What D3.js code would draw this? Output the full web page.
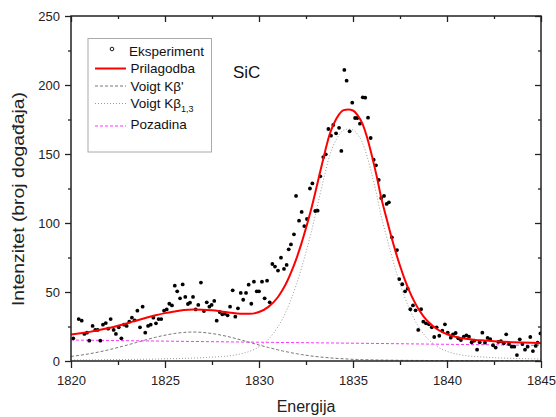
<!DOCTYPE html>
<html>
<head>
<meta charset="utf-8">
<script src="https://cdn.jsdelivr.net/npm/d3@7"></script>
<style>
html,body{margin:0;padding:0;background:#fff;}
svg{display:block;font-family:"Liberation Sans",Arial,sans-serif;}
</style>
</head>
<body>
<svg id="chart" width="556" height="417"></svg>
<script>
// ---- data ----
const expEnergy = [1820.12,1820.41,1820.57,1820.71,1820.85,1820.97,1821.15,1821.29,1821.42,1821.56,
1821.70,1821.85,1821.98,1822.11,1822.27,1822.39,1822.54,1822.68,1822.82,1822.96,
1823.10,1823.24,1823.39,1823.53,1823.67,1823.81,1823.95,1824.10,1824.24,1824.38,
1824.52,1824.66,1824.80,1824.95,1825.09,1825.23,1825.37,1825.52,1825.65,1825.80,
1825.94,1826.08,1826.22,
1826.33,1826.49,1826.63,1826.77,1826.91,1827.07,1827.22,1827.36,1827.48,1827.62,
1827.75,1827.91,1828.05,1828.18,1828.33,1828.46,1828.60,1828.74,1828.88,1829.03,
1829.16,1829.31,1829.45,1829.59,1829.73,1829.88,1830.00,1830.16,1830.30,1830.43,
1830.57,1830.71,1830.85,1831.01,1831.17,1831.33,1831.47,1831.58,1831.70,1831.86,
1831.97,1832.13,1832.27,1832.41,1832.55,
1832.71,1832.84,1832.99,1833.12,1833.26,1833.42,1833.55,1833.69,1833.83,1833.95,
1834.10,1834.26,1834.38,1834.54,1834.66,1834.82,1834.96,1835.11,1835.23,1835.37,
1835.52,1835.65,1835.80,1835.94,1836.10,1836.22,1836.37,1836.50,1836.65,1836.79,
1836.91,
1837.07,1837.34,1837.46,1837.62,1837.77,1837.91,1838.05,1838.19,1838.33,1838.47,
1838.62,1838.74,1838.88,1839.04,1839.19,1839.32,1839.45,1839.59,1839.75,1839.89,
1840.04,1840.20,1840.32,1840.46,1840.60,1840.74,1840.89,1841.03,1841.17,1841.31,
1841.45,1841.60,1841.74,1841.88,1842.02,1842.16,1842.30,1842.45,1842.59,1842.73,
1842.87,1843.02,1843.15,1843.30,1843.44,1843.58,1843.72,1843.87,1844.01,1844.15,
1844.29,1844.43,1844.57,1844.72,1844.82,1844.97];
const expCounts = [16.4,30.4,29.2,19.6,20.5,14.7,25.4,22.5,22.5,14.7,
26.3,27.5,23.4,30.4,22.5,19.6,24.4,16.4,26.3,25.4,
28.5,31.4,29.5,36.5,24.4,39.4,20.5,25.4,26.3,31.4,
27.3,30.4,30.4,36.5,37.4,41.5,40.3,54.6,50.5,45.4,
55.5,46.4,41.3,
42.3,46.4,37.4,40.6,56.8,36.2,42.5,39.4,40.6,43.5,
29.2,35.5,33.8,34.3,33.1,39.4,51.2,32.1,38.2,49.3,
44.4,49.3,55.3,41.5,57.5,50.5,50.5,57.5,45.4,58.2,
42.5,70.3,68.4,65.5,74.9,66.7,69.6,80.9,84.5,91.8,
119.6,101.7,108,97.8,102.9,
125,128.7,108.7,108.9,133.8,147.8,149.8,168.1,163.3,171,
165,169,152.2,210.9,203.1,166.4,187.2,176.1,176.1,172,
191.1,190.8,176.3,161.6,145.9,141.8,131.2,118.1,119.6,113.8,
115,
89.6,80.4,59.4,55.6,50.5,52.4,37.5,40.3,36.7,22.5,
37.5,28.5,27.3,26.6,24.4,17.4,24.4,18.3,22,26.6,
20.5,16.9,19.3,20.3,16.4,15.2,17.6,18.6,17.6,13.6,
14.7,8.2,13.6,20.5,13.3,16.7,15.9,11.4,9.7,13.8,
14.3,12.8,19.3,12.3,10.4,10.4,4.3,15.7,12.3,8.2,
10.4,17.4,7.2,10.9,13.3,20];

const curveEnergy = [1820,1820.5,1821,1821.5,1822,1822.5,1823,1823.5,1824,1824.5,1825,1825.5,1826,1826.5,1827,1827.5,1828,1828.5,1829,1829.5,1830,1830.5,1831,
1831.25,1831.5,1831.75,1832,1832.25,1832.5,1832.75,1833,1833.25,1833.5,1833.75,1834,1834.25,1834.5,1834.75,1835,1835.25,1835.5,1835.75,1836,1836.25,1836.5,1836.75,1837,1837.25,1837.5,1837.75,1838,1838.25,1838.5,1838.75,1839,
1839.5,1840,1840.5,1841,1841.5,1842,1842.5,1843,1843.5,1844,1844.5,1845];
const fitCounts = [19.2,20.1,21.1,22.4,23.9,25.6,27.4,29.4,31.3,33.1,34.7,35.9,36.9,37.3,37.2,36.7,35.9,35.0,34.3,34.2,35.5,39.2,46.2,
51.4,57.8,65.6,74.6,84.9,96.4,108.7,122.5,137,151,164,172.5,178.5,181.8,182.3,181.5,178,172,162,149,134.5,118.4,105.0,92.1,80.0,69.0,59.2,50.7,43.4,37.3,32.4,28.4,
22.8,19.4,17.4,16.1,15.3,14.8,14.3,13.9,13.6,13.4,13.2,12.9];
const kbPrimeCounts = [3.3,4.2,5.3,6.6,8.1,9.8,11.6,13.5,15.4,17.2,18.7,19.9,20.7,21.0,20.7,19.9,18.7,17.2,15.4,13.5,11.6,9.8,8.1,
7.3,6.6,5.9,5.3,4.7,4.2,3.7,3.3,2.9,2.6,2.3,2.0,1.8,1.6,1.4,1.2,1.1,1.0,0.92,0.85,0.77,0.7,0.65,0.6,0.55,0.5,0.48,0.45,0.42,0.4,0.39,0.37,
0.34,0.32,0.3,0.28,0.26,0.24,0.22,0.21,0.2,0.19,0.18,0.17];
const kb13Counts = [0.7,0.75,0.8,0.86,0.93,1.0,1.1,1.2,1.3,1.4,1.6,1.7,1.9,2.1,2.4,2.8,3.2,3.9,5.1,7.0,10.3,15.8,24.6,
30.6,37.8,46.3,56.0,66.9,78.9,91.8,106,121,135.3,148.6,157.5,163.7,167.3,168.0,167.4,164.1,158.2,148.3,135.4,121.1,105.1,91.8,78.9,66.9,56.0,46.3,37.8,30.6,24.6,19.7,15.8,
10.3,7.0,5.1,3.9,3.2,2.8,2.4,2.1,1.9,1.7,1.6,1.4];
const bgEnergy = [1820,1825,1830,1835,1840,1845];
const bgCounts = [15.2,14.4,13.6,12.9,12.1,11.3];

const xTicks = [1820,1825,1830,1835,1840,1845];
const xMinorTicks = [1822.5,1827.5,1832.5,1837.5,1842.5];
const yTicks = [0,50,100,150,200,250];
const yMinorTicks = [25,75,125,175,225];

const legendLabels = ["Eksperiment","Prilagodba","Voigt K\u03B2'","Voigt K\u03B2","Pozadina"];
const xTitle = "Energija";
const yTitle = "Intenzitet (broj doga\u0111aja)";
const sampleLabel = "SiC";

// ---- drawing ----
const svg = d3.select("#chart");
const x = d3.scaleLinear().domain([1820,1845]).range([71,541]);
const y = d3.scaleLinear().domain([0,250]).range([361,16]);
const axisColor = "#222";

function styleAxis(g){
  g.select(".domain").remove();
  g.selectAll("line").attr("stroke",axisColor).attr("stroke-width",1.3);
  g.selectAll("text").attr("fill","#222").style("font-size","13px").style("font-family","'Liberation Sans',Arial,sans-serif");
}

svg.append("defs").append("clipPath").attr("id","clip").append("rect")
  .attr("x",71).attr("y",16).attr("width",470).attr("height",345);
const plot = svg.append("g").attr("clip-path","url(#clip)");

const line = (xs, ys) => d3.line().curve(d3.curveMonotoneX)
  .x((d,i)=>x(xs[i])).y((d,i)=>y(ys[i]))(ys);

plot.append("path").attr("d",line(bgEnergy,bgCounts)).attr("fill","none")
  .attr("stroke","#ff33ff").attr("stroke-width",1).attr("stroke-dasharray","3,2");
plot.append("path").attr("d",line(curveEnergy,kbPrimeCounts)).attr("fill","none")
  .attr("stroke","#777").attr("stroke-width",1).attr("stroke-dasharray","3,2");
plot.append("path").attr("d",line(curveEnergy,kb13Counts)).attr("fill","none")
  .attr("stroke","#999").attr("stroke-width",1).attr("stroke-dasharray","1,2");

plot.selectAll("circle.pt").data(expCounts).enter().append("circle")
  .attr("class","pt").attr("cx",(d,i)=>x(expEnergy[i])).attr("cy",d=>y(d))
  .attr("r",1.9).attr("fill","#000");

plot.append("path").attr("d",line(curveEnergy,fitCounts)).attr("fill","none")
  .attr("stroke","#ff0000").attr("stroke-width",2);

// axes
svg.append("g").attr("transform","translate(0,361)")
  .call(d3.axisBottom(x).tickValues(xTicks).tickSize(7).tickPadding(8).tickFormat(d3.format("d"))).call(styleAxis);
svg.append("g").attr("transform","translate(0,361)")
  .call(d3.axisBottom(x).tickValues(xMinorTicks).tickSize(4).tickFormat("")).call(styleAxis);
svg.append("g").attr("transform","translate(0,16)")
  .call(d3.axisTop(x).tickValues(xTicks).tickSize(-6).tickFormat("")).call(styleAxis);
svg.append("g").attr("transform","translate(0,16)")
  .call(d3.axisTop(x).tickValues(xMinorTicks).tickSize(-3).tickFormat("")).call(styleAxis);

svg.append("g").attr("transform","translate(71,0)")
  .call(d3.axisLeft(y).tickValues(yTicks).tickSize(6).tickPadding(5)).call(styleAxis);
svg.append("g").attr("transform","translate(71,0)")
  .call(d3.axisLeft(y).tickValues(yMinorTicks).tickSize(3).tickFormat("")).call(styleAxis);
svg.append("g").attr("transform","translate(541,0)")
  .call(d3.axisRight(y).tickValues(yTicks).tickSize(-6).tickFormat("")).call(styleAxis);
svg.append("g").attr("transform","translate(541,0)")
  .call(d3.axisRight(y).tickValues(yMinorTicks).tickSize(-3).tickFormat("")).call(styleAxis);

// frame
svg.append("rect").attr("x",71).attr("y",16).attr("width",470).attr("height",345)
  .attr("fill","none").attr("stroke",axisColor).attr("stroke-width",1.5);

// titles
svg.append("text").attr("x",306).attr("y",412).attr("text-anchor","middle")
  .style("font-size","16px").attr("fill","#222").text(xTitle);
svg.append("text").attr("transform","translate(24,199) rotate(-90)").attr("text-anchor","middle")
  .attr("textLength",214).attr("lengthAdjust","spacingAndGlyphs")
  .style("font-size","16px").attr("fill","#222").text(yTitle);

svg.append("text").attr("x",233).attr("y",78).style("font-size","17px").attr("fill","#111").text(sampleLabel);

// legend
const lg = svg.append("g");
lg.append("rect").attr("x",88).attr("y",38.5).attr("width",123.5).attr("height",113.5)
  .attr("fill","#fff").attr("stroke","#aaa").attr("stroke-width",1);
const lx0 = 95, lx1 = 126;
lg.append("circle").attr("cx",112).attr("cy",49).attr("r",1.8).attr("fill","none").attr("stroke","#000").attr("stroke-width",0.9);
lg.append("line").attr("x1",lx0).attr("x2",lx1).attr("y1",68.5).attr("y2",68.5).attr("stroke","#ff0000").attr("stroke-width",2);
lg.append("line").attr("x1",lx0).attr("x2",lx1).attr("y1",86).attr("y2",86).attr("stroke","#777").attr("stroke-dasharray","3,2");
lg.append("line").attr("x1",lx0).attr("x2",lx1).attr("y1",103.5).attr("y2",103.5).attr("stroke","#999").attr("stroke-dasharray","1,2");
lg.append("line").attr("x1",lx0).attr("x2",lx1).attr("y1",126).attr("y2",126).attr("stroke","#ff33ff").attr("stroke-dasharray","3,2");
const legY = [56,73.3,90.7,108.3,129.3];
legendLabels.forEach((t,i)=>{
  const tt = lg.append("text").attr("x", i===0?129:130.5).attr("y",legY[i])
    .style("font-size","13.5px").attr("fill","#111").text(t);
  if(i===3){
    tt.append("tspan").attr("dy",3.5).style("font-size","9px").text("1,3");
  }
});
</script>
</body>
</html>
